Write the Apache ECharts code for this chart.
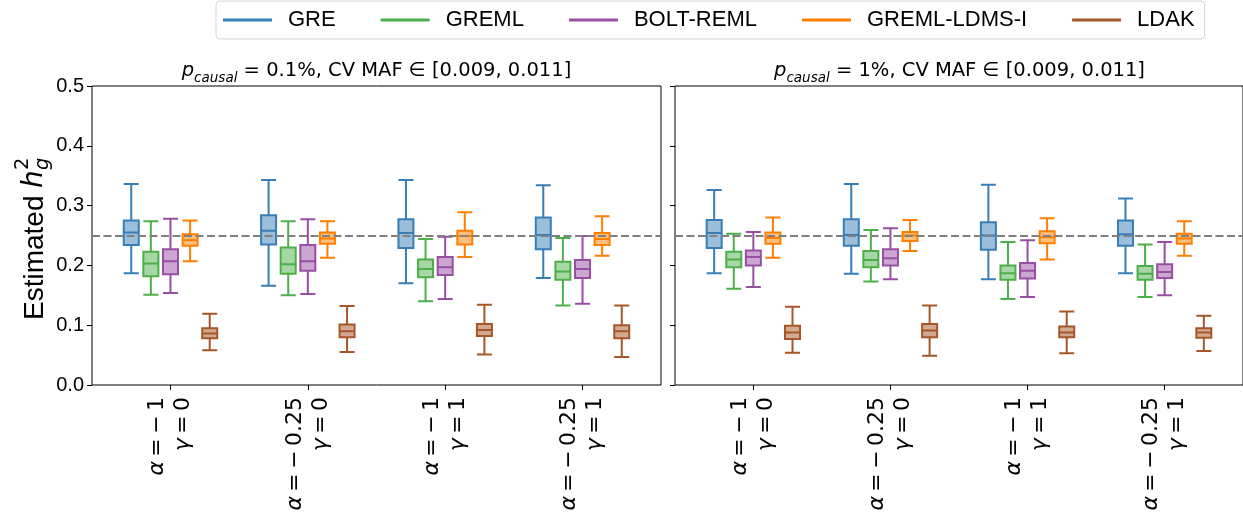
<!DOCTYPE html>
<html>
<head>
<meta charset="utf-8">
<script src="https://cdn.jsdelivr.net/npm/echarts@6/dist/echarts.min.js"></script>
<style>
  html, body { margin: 0; padding: 0; background: #fff; }
  #chart { width: 1243px; height: 521px; }
</style>
</head>
<body>
<div id="chart"></div>
<script>
// Methods and their colours
const methods = ['GRE', 'GREML', 'BOLT-REML', 'GREML-LDMS-I', 'LDAK'];
const methodColors = ['#377eb8', '#4daf4a', '#984ea3', '#ff7f00', '#a65628'];

// Simulation settings (one group of boxes per setting)
const alphaValues = ['-1', '-0.25', '-1', '-0.25'];
const gammaValues = ['0', '0', '1', '1'];

// Panels: proportion of causal variants
const causalProportions = ['0.1%', '1%'];
const mafRange = '[0.009, 0.011]';
const trueH2 = 0.25;

// Five-number summaries [min, Q1, median, Q3, max], one row per setting
// p_causal = 0.1%
const gre01   = [[0.187, 0.234, 0.255, 0.275, 0.336], [0.166, 0.235, 0.258, 0.284, 0.343], [0.170, 0.229, 0.254, 0.277, 0.343], [0.179, 0.227, 0.251, 0.280, 0.334]];
const greml01 = [[0.151, 0.182, 0.203, 0.223, 0.274], [0.150, 0.186, 0.202, 0.230, 0.274], [0.140, 0.180, 0.194, 0.210, 0.244], [0.133, 0.176, 0.190, 0.206, 0.246]];
const bolt01  = [[0.154, 0.185, 0.207, 0.227, 0.278], [0.152, 0.191, 0.207, 0.234, 0.277], [0.144, 0.184, 0.197, 0.214, 0.248], [0.136, 0.179, 0.194, 0.209, 0.249]];
const ldms01  = [[0.207, 0.233, 0.242, 0.252, 0.275], [0.213, 0.236, 0.245, 0.255, 0.274], [0.214, 0.235, 0.249, 0.258, 0.289], [0.216, 0.234, 0.244, 0.254, 0.282]];
const ldak01  = [[0.058, 0.078, 0.086, 0.095, 0.119], [0.055, 0.080, 0.090, 0.101, 0.132], [0.051, 0.082, 0.092, 0.102, 0.134], [0.047, 0.078, 0.090, 0.100, 0.133]];
// p_causal = 1%
const gre1    = [[0.187, 0.229, 0.254, 0.276, 0.326], [0.186, 0.233, 0.251, 0.277, 0.336], [0.177, 0.226, 0.250, 0.272, 0.335], [0.187, 0.233, 0.252, 0.275, 0.312]];
const greml1  = [[0.161, 0.197, 0.210, 0.223, 0.253], [0.173, 0.197, 0.209, 0.224, 0.259], [0.144, 0.176, 0.187, 0.200, 0.239], [0.147, 0.176, 0.186, 0.199, 0.235]];
const bolt1   = [[0.164, 0.200, 0.214, 0.225, 0.256], [0.177, 0.200, 0.212, 0.227, 0.262], [0.147, 0.178, 0.191, 0.204, 0.242], [0.150, 0.179, 0.189, 0.202, 0.239]];
const ldms1   = [[0.213, 0.236, 0.246, 0.255, 0.280], [0.224, 0.241, 0.250, 0.256, 0.276], [0.210, 0.237, 0.247, 0.257, 0.279], [0.216, 0.236, 0.245, 0.253, 0.274]];
const ldak1   = [[0.054, 0.077, 0.088, 0.099, 0.131], [0.049, 0.080, 0.091, 0.102, 0.133], [0.053, 0.080, 0.088, 0.098, 0.123], [0.057, 0.079, 0.088, 0.095, 0.116]];

const panelData = [
  [gre01, greml01, bolt01, ldms01, ldak01],
  [gre1, greml1, bolt1, ldms1, ldak1]
];

// Each setting occupies 7 evenly spaced slots: 5 boxes plus a gap of 2
const SLOTS_PER_GROUP = 7;
const LEAD = 2;
const N_SLOTS = alphaValues.length * SLOTS_PER_GROUP + 2;
const slotNames = Array.from({ length: N_SLOTS }, (_, i) => 's' + i);
const centreSlot = g => LEAD + g * SLOTS_PER_GROUP + Math.floor(methods.length / 2);
const groupOfSlot = idx => {
  for (let g = 0; g < alphaValues.length; g++) if (centreSlot(g) === idx) return g;
  return -1;
};

const PANEL_LEFT = [92, 675];
const PANEL_W = 569;
const PANEL_TOP = 86;
const PANEL_H = 299;

function hexToRgba(hex, a) {
  const n = parseInt(hex.slice(1), 16);
  return `rgba(${(n >> 16) & 255},${(n >> 8) & 255},${n & 255},${a})`;
}

// Typeset a signed number with a math minus sign followed by a thin space
const mathNumber = s => s.replace('-', '−\u2009');

const grids = PANEL_LEFT.map(left => ({
  left: left, top: PANEL_TOP, width: PANEL_W, height: PANEL_H,
  show: true, borderColor: '#000', borderWidth: 1, backgroundColor: 'transparent',
  containLabel: false
}));

const xAxes = [];
const yAxes = [];
const series = [];

PANEL_LEFT.forEach((_, p) => {
  yAxes.push({
    type: 'value', gridIndex: p, min: 0, max: 0.5, interval: 0.1,
    axisLine: { show: false },
    splitLine: { show: false },
    axisTick: { show: true, inside: false, length: 5, lineStyle: { color: '#000', width: 1 } },
    axisLabel: {
      show: p === 0, margin: 8, color: '#000',
      fontFamily: 'Liberation Sans', fontSize: 20,
      formatter: v => v.toFixed(1)
    }
  });
  methods.forEach((name, m) => {
    const visible = m === 0;
    xAxes.push({
      type: 'category', gridIndex: p, data: slotNames, boundaryGap: false,
      show: visible,
      axisLine: { show: false },
      splitLine: { show: false },
      axisTick: {
        show: true, length: 5, lineStyle: { color: '#000', width: 1 },
        interval: idx => groupOfSlot(idx) >= 0
      },
      axisLabel: {
        show: true, rotate: 90, margin: 12, color: '#000',
        fontFamily: 'DejaVu Sans', fontSize: 22, lineHeight: 26,
        interval: idx => groupOfSlot(idx) >= 0,
        formatter: (val, idx) => {
          const g = groupOfSlot(idx);
          if (g < 0) return '';
          return '{i|α}\u2009=\u2009' + mathNumber(alphaValues[g]) + '\n{i|γ}\u2009=\u2009' + mathNumber(gammaValues[g]);
        },
        rich: { i: { fontFamily: 'DejaVu Sans', fontStyle: 'italic', fontSize: 22, color: '#000' } }
      }
    });
    const empty = ['-', '-', '-', '-', '-'];
    const data = slotNames.map(() => empty);
    panelData[p][m].forEach((row, g) => {
      data[LEAD + g * SLOTS_PER_GROUP + m] = row;
    });
    const s = {
      type: 'boxplot', name: name,
      xAxisIndex: p * methods.length + m, yAxisIndex: p,
      data: data,
      boxWidth: [15, 15],
      silent: true,
      itemStyle: { color: hexToRgba(methodColors[m], 0.5), borderColor: methodColors[m], borderWidth: 2 },
      emphasis: { disabled: true }
    };
    if (m === methods.length - 1) {
      s.markLine = {
        silent: true, symbol: 'none', animation: false,
        label: { show: false },
        lineStyle: { color: '#808080', type: [8, 3.5], width: 2 },
        data: [{ yAxis: trueH2 }]
      };
    }
    series.push(s);
  });
});

const titleRich = {
  p: { fontFamily: 'DejaVu Sans', fontStyle: 'italic', fontSize: 19.5, color: '#000', lineHeight: 28 },
  s: { fontFamily: 'DejaVu Sans', fontStyle: 'italic', fontSize: 13.5, color: '#000', lineHeight: 14, verticalAlign: 'bottom' }
};
const titles = causalProportions.map((pc, p) => ({
  text: '{p|p}{s|causal} = ' + pc + ', CV MAF ∈ ' + mafRange,
  left: PANEL_LEFT[p] + PANEL_W / 2, top: 57, textAlign: 'center', padding: 0,
  textStyle: { fontFamily: 'DejaVu Sans', fontSize: 19.5, fontWeight: 'normal', color: '#000', lineHeight: 28, rich: titleRich }
}));

const option = {
  animation: false,
  backgroundColor: '#fff',
  title: titles,
  legend: {
    left: 216, top: 1,
    padding: [8, 10, 8, 7],
    itemGap: 45, itemWidth: 49, itemHeight: 3,
    icon: 'rect',
    borderColor: '#d4d4d4', borderWidth: 1, borderRadius: 4,
    itemStyle: { borderWidth: 0 },
    textStyle: { fontFamily: 'Liberation Sans', fontSize: 22, color: '#000', padding: [0, 0, 0, 11] },
    data: methods.map((name, m) => ({ name: name, itemStyle: { color: methodColors[m], borderWidth: 0 } })),
    selectedMode: false
  },
  grid: grids,
  xAxis: xAxes,
  yAxis: yAxes,
  series: series,
  graphic: [{
    type: 'group', x: 35, y: 239, rotation: Math.PI / 2, silent: true,
    children: [
      { type: 'text', x: -81, y: 0, style: { text: 'Estimated ', fontFamily: 'Liberation Sans', fontSize: 28, fill: '#000', textAlign: 'left', textVerticalAlign: 'middle' } },
      { type: 'text', x: 51, y: 0, style: { text: 'h', fontFamily: 'DejaVu Sans', fontStyle: 'italic', fontSize: 28, fill: '#000', textAlign: 'left', textVerticalAlign: 'middle' } },
      { type: 'text', x: 69, y: 8, style: { text: 'g', fontFamily: 'DejaVu Sans', fontStyle: 'italic', fontSize: 19.5, fill: '#000', textAlign: 'left', textVerticalAlign: 'middle' } },
      { type: 'text', x: 69, y: -12, style: { text: '2', fontFamily: 'DejaVu Sans', fontSize: 19.5, fill: '#000', textAlign: 'left', textVerticalAlign: 'middle' } }
    ]
  }]
};

const chart = echarts.init(document.getElementById('chart'), null, { renderer: 'canvas' });
chart.setOption(option);
</script>
</body>
</html>
